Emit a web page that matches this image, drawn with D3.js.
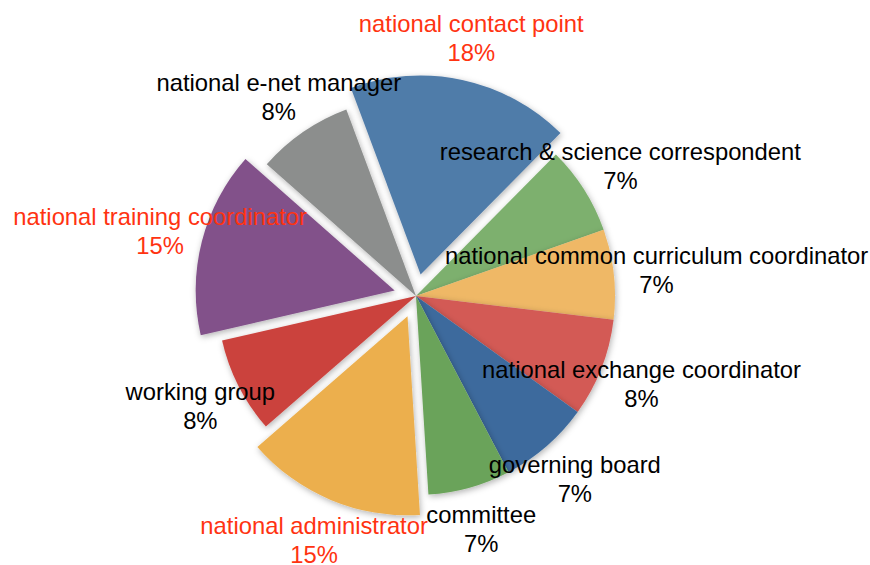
<!DOCTYPE html>
<html>
<head>
<meta charset="utf-8">
<script src="https://cdn.jsdelivr.net/npm/d3@7"></script>
<style>
  html, body { margin: 0; padding: 0; background: #ffffff; }
  svg { display: block; }
  text { font-family: "Liberation Sans", Arial, Helvetica, sans-serif; }
</style>
</head>
<body>
<svg id="chart" width="870" height="565"></svg>
<script>
// ---- data ----
const categories = [
  "national contact point",
  "research & science correspondent",
  "national common curriculum coordinator",
  "national exchange coordinator",
  "governing board",
  "committee",
  "national administrator",
  "working group",
  "national training coordinator",
  "national e-net manager"
];
const shares = [18.1, 7.2, 7.3, 8.0, 7.4, 6.7, 14.6, 7.8, 15.1, 7.8];
const exploded = [true, false, false, false, false, false, true, false, true, false];
const sliceColors = ["#507ba9", "#7db06e", "#efb866", "#d35a55", "#3d6b9d",
                     "#6ba35a", "#ecaf4d", "#cb433e", "#82518a", "#8c8e8d"];

// ---- layout ----
const W = 870, H = 565;
const cx = 416, cy = 296;
const radius = 199;
const explodeDist = 22;
const labelRadius = 242;
const startDeg = -20.5;
const fontSize = 23.8;

const svg = d3.select("#chart");

const defs = svg.append("defs");
const f = defs.append("filter").attr("id", "shadow")
  .attr("x", "-20%").attr("y", "-20%").attr("width", "140%").attr("height", "140%");
f.append("feDropShadow").attr("dx", 1).attr("dy", 2)
  .attr("stdDeviation", 3).attr("flood-color", "#000").attr("flood-opacity", 0.3);

const data = categories.map((c, i) => ({ name: c, value: shares[i], exploded: exploded[i], color: sliceColors[i] }));

const pie = d3.pie()
  .value(d => d.value)
  .sort(null)
  .startAngle(startDeg * Math.PI / 180)
  .endAngle(startDeg * Math.PI / 180 + 2 * Math.PI);

const arcs = pie(data);
const total = d3.sum(shares);

const arc = d3.arc().innerRadius(0).outerRadius(radius);

const g = svg.append("g").attr("transform", `translate(${cx},${cy})`);

function offset(d, dist) {
  const a = (d.startAngle + d.endAngle) / 2;
  return [Math.sin(a) * dist, -Math.cos(a) * dist];
}

g.selectAll("path.slice")
  .data(arcs)
  .join("path")
  .attr("class", "slice")
  .attr("d", arc)
  .attr("fill", d => d.data.color)
  .attr("filter", "url(#shadow)")
  .attr("transform", d => {
    const [x, y] = offset(d, d.data.exploded ? explodeDist : 0);
    return `translate(${x},${y})`;
  });

const labels = g.selectAll("g.label")
  .data(arcs)
  .join("g")
  .attr("class", "label")
  .attr("transform", d => {
    const r = labelRadius + (d.data.exploded ? explodeDist : 0);
    const [x, y] = offset(d, r);
    return `translate(${x},${y})`;
  });

labels.append("text")
  .attr("text-anchor", "middle")
  .attr("dominant-baseline", "central")
  .attr("y", -14.5)
  .attr("font-size", fontSize)
  .attr("fill", d => d.data.exploded ? "#ff3311" : "#000")
  .text(d => d.data.name);

labels.append("text")
  .attr("text-anchor", "middle")
  .attr("dominant-baseline", "central")
  .attr("y", 14.5)
  .attr("font-size", fontSize)
  .attr("fill", d => d.data.exploded ? "#ff3311" : "#000")
  .text(d => Math.round(d.data.value / total * 100) + "%");
</script>
</body>
</html>
